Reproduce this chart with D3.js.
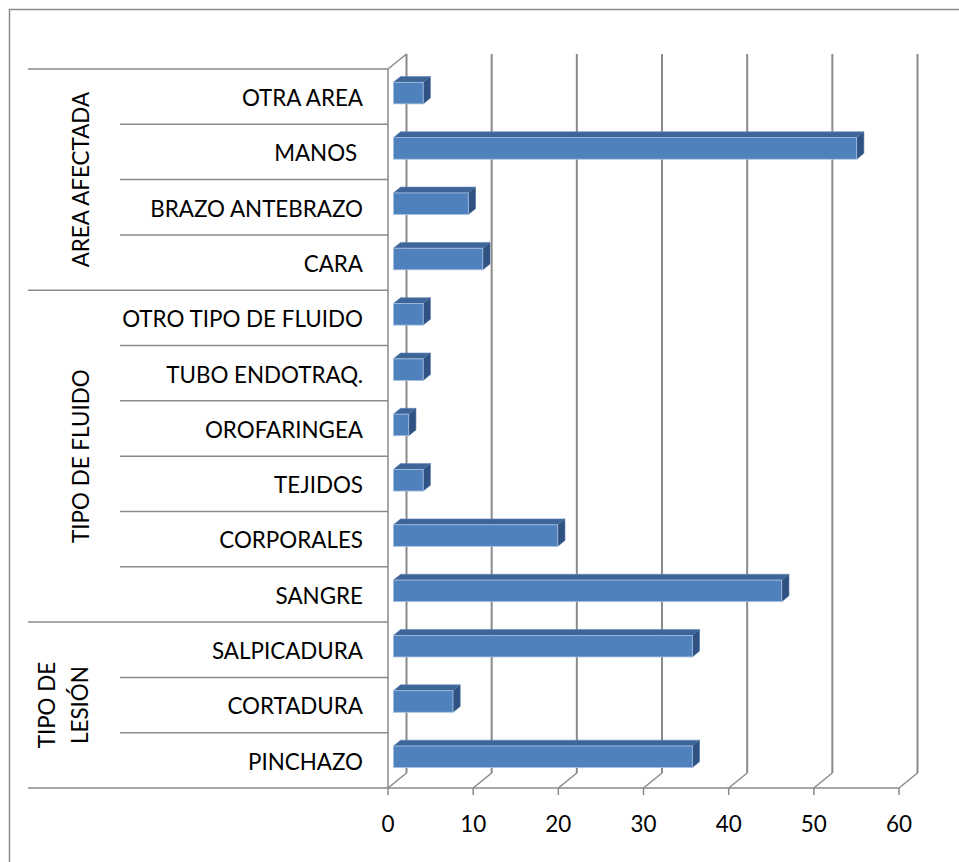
<!DOCTYPE html>
<html><head><meta charset="utf-8">
<script src="https://cdn.jsdelivr.net/npm/d3@7"></script>
<style>
html,body{margin:0;padding:0;background:#fff;}
svg{display:block;}
text{font-family:Lato,"Open Sans",sans-serif;fill:#000;white-space:pre;}
</style></head><body>
<script>
// ---- data (top to bottom as shown) ----
const categories = ["OTRA AREA","MANOS ","BRAZO ANTEBRAZO","CARA","OTRO TIPO DE FLUIDO","TUBO ENDOTRAQ.","OROFARINGEA","TEJIDOS","CORPORALES","SANGRE","SALPICADURA","CORTADURA","PINCHAZO"];
const values = [3.5,54.4,8.8,10.5,3.5,3.5,1.8,3.5,19.3,45.6,35.1,7.0,35.1];
const groupNames = [["AREA AFECTADA"],["TIPO DE FLUIDO"],["TIPO DE","LESIÓN"]];
const groupSizes = [4,6,3];
const xTicks = [0,10,20,30,40,50,60];

(function(){
const W=959,H=862;
const svg=d3.select("body").append("svg").attr("width",W).attr("height",H);

const yTop=69,yBot=788;
const x=d3.scaleLinear().domain([0,60]).range([388,899]);
const y=d3.scaleBand().domain(categories).range([yTop,yBot]).padding(0);
const DX=18.5,DY=15; // depth projection
const tF=0.29,tB=0.68;
const grid="#8a8a8a";

// outer border
svg.append("rect").attr("x",9.5).attr("y",9.5).attr("width",980).attr("height",900)
  .attr("fill","none").attr("stroke","#8a8a8a").attr("stroke-width",1.5);

// back wall gridlines
svg.selectAll("line.grid").data(xTicks).join("line").attr("class","grid")
  .attr("x1",d=>x(d)+DX).attr("x2",d=>x(d)+DX).attr("y1",yTop-DY).attr("y2",yBot-DY)
  .attr("stroke",grid).attr("stroke-width",2);
// floor diagonals
svg.selectAll("line.diag").data(xTicks).join("line").attr("class","diag")
  .attr("x1",d=>x(d)).attr("x2",d=>x(d)+DX).attr("y1",yBot).attr("y2",yBot-DY)
  .attr("stroke",grid).attr("stroke-width",1.5);
// front baseline + ticks
svg.append("line").attr("x1",x(0)).attr("x2",x(60)).attr("y1",yBot).attr("y2",yBot)
  .attr("stroke",grid).attr("stroke-width",1.5);
svg.selectAll("line.tick").data(xTicks).join("line").attr("class","tick")
  .attr("x1",d=>x(d)).attr("x2",d=>x(d)).attr("y1",yBot).attr("y2",yBot+7)
  .attr("stroke",grid).attr("stroke-width",1.5);
// left wall
svg.append("line").attr("x1",x(0)).attr("x2",x(0)).attr("y1",yTop).attr("y2",yBot)
  .attr("stroke",grid).attr("stroke-width",1.5);
svg.append("line").attr("x1",x(0)).attr("x2",x(0)+DX).attr("y1",yTop).attr("y2",yTop-DY)
  .attr("stroke",grid).attr("stroke-width",1.5);

// category separators
let acc=0;
const groupStarts=[0];
groupSizes.forEach(s=>{acc+=s;groupStarts.push(acc);});
for(let i=0;i<=categories.length;i++){
  const yy = i<categories.length ? y(categories[i]) : yBot;
  const isGroup = groupStarts.includes(i);
  svg.append("line").attr("x1",isGroup?28:120).attr("x2",x(0)).attr("y1",yy).attr("y2",yy)
    .attr("stroke",grid).attr("stroke-width",1.5);
}

// fit font size
const probe=svg.append("text").style("font-size","100px").text("OTRO TIPO DE FLUIDO");
const fs=100*241/probe.node().getComputedTextLength();
probe.text("10");
const fsT=100*26/probe.node().getComputedTextLength();
probe.remove();

// category labels
svg.selectAll("text.cat").data(categories).join("text").attr("class","cat")
  .attr("x",363).attr("y",d=>y(d)+y.bandwidth()/2+1.5).attr("dy","0.35em")
  .attr("text-anchor","end").style("font-size",fs+"px").text(d=>d);

// group labels
groupNames.forEach((lines,gi)=>{
  const y0=y(categories[groupStarts[gi]]);
  const y1=groupStarts[gi+1]<categories.length?y(categories[groupStarts[gi+1]]):yBot;
  const cy=(y0+y1)/2;
  const n=lines.length;
  lines.forEach((ln,li)=>{
    const cx = n===1?81:(li===0?47:80);
    svg.append("text").attr("transform",`translate(${cx},${cy}) rotate(-90)`)
      .attr("text-anchor","middle").attr("dy","0.35em").style("font-size",fs+"px").text(ln);
  });
});

// bars
const bh=y.bandwidth()*0.39;
const bars=svg.selectAll("g.bar").data(categories.map((c,i)=>({c,v:values[i]}))).join("g").attr("class","bar");
bars.each(function(d){
  const g=d3.select(this);
  const cy=y(d.c)+y.bandwidth()/2;
  const fx0=x(0)+tF*DX, fx1=x(d.v)+tF*DX;
  const fy0=cy-bh/2-tF*DY+0.8, fy1=cy+bh/2-tF*DY+0.8;
  const ox=(tB-tF)*DX, oy=(tB-tF)*DY;
  g.append("path").attr("d",`M${fx0},${fy0}L${fx0+ox},${fy0-oy}L${fx1+ox},${fy0-oy}L${fx1},${fy0}Z`)
    .attr("fill","#3e6597").attr("stroke","#5f86b8").attr("stroke-width",0.6);
  g.append("path").attr("d",`M${fx1},${fy0}L${fx1+ox},${fy0-oy}L${fx1+ox},${fy1-oy}L${fx1},${fy1}Z`)
    .attr("fill","#2f5282").attr("stroke","#4b70a0").attr("stroke-width",0.6);
  g.append("rect").attr("x",fx0).attr("y",fy0).attr("width",fx1-fx0).attr("height",fy1-fy0)
    .attr("fill","#4f81bd").attr("stroke","#a9c2e2").attr("stroke-width",0.8);
});

// x tick labels
svg.selectAll("text.xt").data(xTicks).join("text").attr("class","xt")
  .attr("x",d=>x(d)).attr("y",824).attr("dy","0.35em").attr("text-anchor","middle")
  .style("font-size",fsT+"px").text(d=>d);
})();
</script>
</body></html>
